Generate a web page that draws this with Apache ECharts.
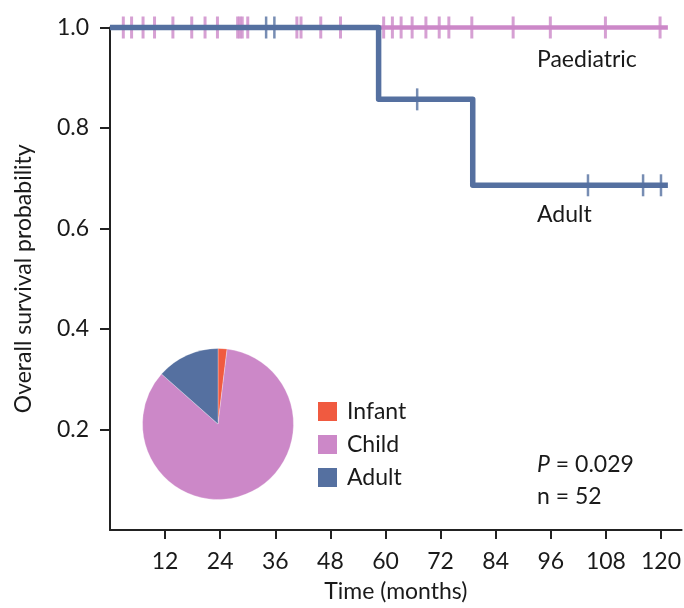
<!DOCTYPE html>
<html>
<head>
<meta charset="utf-8">
<script src="https://cdn.jsdelivr.net/npm/echarts@6/dist/echarts.min.js"></script>
<style>
html,body{margin:0;padding:0;background:#fff;}
#chart{width:684px;height:608px;}
</style>
</head>
<body>
<div id="chart"></div>
<script>
// ---- data ----
const xTicks = [12, 24, 36, 48, 60, 72, 84, 96, 108, 120];
const yTicks = [0.2, 0.4, 0.6, 0.8, 1.0];
// Kaplan-Meier curves (time in months, survival)
const paedTimes = [0, 121.5];
const paedSurv = [1.0, 1.0];
const adultTimes = [0, 58.5, 79.0, 121.5];
const adultSurv = [1.0, 0.857, 0.686, 0.686];
// censored observations
const paedCensorTimes = [2.9, 4.7, 7.2, 9.7, 13.7, 17.8, 20.7, 23.4, 27.8, 28.3, 28.8, 30.0, 40.7, 41.6, 45.9, 50.2, 59.6, 61.5, 63.4, 65.8, 68.8, 71.7, 73.8, 78.8, 87.8, 95.9, 107.9, 119.8];
const paedCensorSurv = paedCensorTimes.map(() => 1.0);
const adultCensorTimes = [34.0, 35.8, 66.9, 104.1, 116.1, 120.0];
const adultCensorSurv = [1.0, 1.0, 0.857, 0.686, 0.686, 0.686];
// cohort composition
const groupNames = ['Infant', 'Child', 'Adult'];
const groupCounts = [1, 44, 7];
const groupColors = ['#f05a40', '#cc88c8', '#5570a0'];

const PINK = '#cc88c8', BLUE = '#5570a0', INK = '#1a1a1a';
const FONT = 'Lato';
const FS = 23;

const zip = (a, b) => a.map((v, i) => [v, b[i]]);

const chart = echarts.init(document.getElementById('chart'), null, {renderer: 'canvas'});
chart.setOption({
  animation: false,
  backgroundColor: '#fff',
  textStyle: {fontFamily: FONT, color: INK},
  grid: {left: 110, right: 0, top: 27.5, bottom: 78, containLabel: false},
  xAxis: {
    type: 'value', min: 0, max: 124.5,
    name: 'Time (months)', nameLocation: 'middle', nameGap: 50,
    nameTextStyle: {fontFamily: FONT, fontSize: FS, color: INK},
    axisLine: {show: true, lineStyle: {color: '#222', width: 2}},
    axisTick: {show: true, customValues: xTicks, length: 9, lineStyle: {color: '#222', width: 2}},
    axisLabel: {customValues: xTicks, margin: 20, fontFamily: FONT, fontSize: FS, color: INK},
    splitLine: {show: false}
  },
  yAxis: {
    type: 'value', min: 0, max: 1,
    name: 'Overall survival probability', nameLocation: 'middle', nameGap: 75, nameRotate: 90,
    nameTextStyle: {fontFamily: FONT, fontSize: FS, color: INK},
    axisLine: {show: true, lineStyle: {color: '#222', width: 2}},
    axisTick: {show: true, customValues: yTicks, length: 10, lineStyle: {color: '#222', width: 2}},
    axisLabel: {customValues: yTicks, margin: 21, fontFamily: FONT, fontSize: FS, color: INK,
      formatter: v => v.toFixed(1)},
    splitLine: {show: false}
  },
  legend: {
    show: true, orient: 'vertical', left: 316, top: 400, padding: 0,
    itemWidth: 21, itemHeight: 21, itemGap: 10, icon: 'rect',
    data: groupNames,
    textStyle: {fontFamily: FONT, fontSize: FS, color: INK, lineHeight: 21, padding: [0, 0, 0, 4]}
  },
  series: [
    {
      type: 'line', name: 'Paediatric', data: zip(paedTimes, paedSurv),
      showSymbol: false, clip: false, z: 2,
      lineStyle: {color: PINK, width: 4.5, cap: 'butt'}
    },
    {
      type: 'scatter', name: 'paedCensor', data: zip(paedCensorTimes, paedCensorSurv),
      symbol: 'rect', symbolSize: [3, 22], clip: false, z: 3,
      itemStyle: {color: PINK}
    },
    {
      type: 'line', name: 'AdultKM', data: zip(adultTimes, adultSurv), step: 'end',
      showSymbol: false, clip: false, z: 4,
      lineStyle: {color: BLUE, width: 5.5, join: 'round', cap: 'butt'}
    },
    {
      type: 'scatter', name: 'adultCensor', data: zip(adultCensorTimes, adultCensorSurv),
      symbol: 'rect', symbolSize: [2.5, 22], clip: false, z: 5,
      itemStyle: {color: BLUE}
    },
    {
      type: 'pie', center: [218, 424], radius: 75.5, startAngle: 90, clockwise: true,
      label: {show: false}, labelLine: {show: false}, silent: true,
      itemStyle: {borderColor: '#fff', borderWidth: 0.3},
      data: groupNames.map((n, i) => ({name: n, value: groupCounts[i], itemStyle: {color: groupColors[i]}}))
    }
  ],
  graphic: [
    {type: 'text', left: 537, top: 48, style: {text: 'Paediatric', font: `${FS}px ${FONT}`, fill: INK}},
    {type: 'text', left: 537, top: 203, style: {text: 'Adult', font: `${FS}px ${FONT}`, fill: INK}},
    {type: 'text', left: 537, top: 453, style: {
      text: '{i|P} = 0.029', fill: INK,
      rich: {i: {fontStyle: 'italic', fontFamily: FONT, fontSize: FS, fill: INK}},
      font: `${FS}px ${FONT}`}},
    {type: 'text', left: 537, top: 485, style: {text: 'n = 52', font: `${FS}px ${FONT}`, fill: INK}}
  ]
});
</script>
</body>
</html>
